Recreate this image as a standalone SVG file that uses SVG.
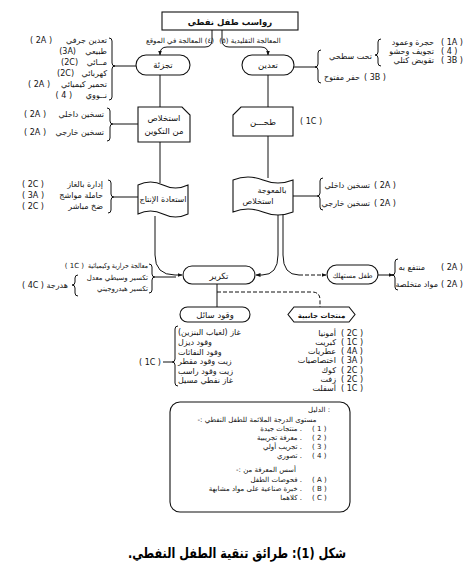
<svg xmlns="http://www.w3.org/2000/svg" width="470" height="580" viewBox="0 0 470 580">
<style>
.t{font-family:"DejaVu Sans","Noto Sans",sans-serif;font-size:8px;fill:#111}
.s{font-family:"DejaVu Sans","Noto Sans",sans-serif;font-size:7px;fill:#111}
.n{font-family:"DejaVu Sans","Noto Sans",sans-serif;font-size:8.5px;fill:#111}
.bx{fill:#fff;stroke:#111;stroke-width:1.1}
.ln{fill:none;stroke:#111;stroke-width:1}
.dl{fill:none;stroke:#111;stroke-width:1;stroke-dasharray:4 2}
.cap{font-family:"DejaVu Sans","Noto Sans",sans-serif;font-size:14px;font-weight:bold;fill:#000}
</style>
<defs>
<marker id="ah" viewBox="0 0 10 10" refX="9" refY="5" markerWidth="5" markerHeight="5" orient="auto"><path d="M0,1 L10,5 L0,9 Z" fill="#111"/></marker>
</defs>
<rect width="470" height="580" fill="#fff"/>

<g id="connectors">
<path class="ln" d="M212,30 V40 Q212,47 205,47 H167 Q160,47 160,54 V55" marker-end="url(#ah)"/>
<path class="ln" d="M222,30 V40 Q222,47 229,47 H261 Q268,47 268,54 V55" marker-end="url(#ah)"/>
<path class="ln" d="M160,75 V107"/>
<path class="ln" d="M160,142 V183"/>
<path class="ln" d="M155,216 V255 Q155,275 175,275 H182" marker-end="url(#ah)"/>
<path class="ln" d="M268,75 V107"/>
<path class="ln" d="M268,136 V178"/>
<path class="ln" d="M278,213 V255 Q278,275 262,275 H256" marker-end="url(#ah)"/>
<path class="ln" d="M283,213 V255 Q283,275 299,275"/>
<path class="dl" d="M299,275 H326" marker-end="url(#ah)"/>
<path class="ln" d="M217,284 V307"/>
<path class="dl" d="M217,292 H312 Q320,292 320,300 V307"/>
<path class="ln" d="M114,66 H136"/>
<path class="ln" d="M294,67 H316"/>
<path class="ln" d="M113,124 H138"/>
<path class="ln" d="M114,197 H138"/>
<path class="ln" d="M293,196 H317"/>
<path class="ln" d="M155,277 H176"/>
<path class="ln" d="M378,275 H393" marker-end="url(#ah)"/>
<path class="ln" d="M163,362 H172"/>
<path class="ln" d="M109,38 Q112,38 112,41 V63 Q112,66 115,66 Q112,66 112,69 V97 Q112,100 109,100"/>
<path class="ln" d="M321,50 Q318,50 318,53 V64 Q318,67 315,67 Q318,67 318,70 V80 Q318,83 321,83"/>
<path class="ln" d="M381,39 Q378,39 378,42 V52 Q378,55 375,55 Q378,55 378,58 V63 Q378,66 381,66"/>
<path class="ln" d="M107,108 Q110,108 110,111 V121 Q110,124 113,124 Q110,124 110,127 V138 Q110,141 107,141"/>
<path class="ln" d="M108,180 Q111,180 111,183 V194 Q111,197 114,197 Q111,197 111,200 V210 Q111,213 108,213"/>
<path class="ln" d="M323,178 Q320,178 320,181 V193 Q320,196 317,196 Q320,196 320,199 V207 Q320,210 323,210"/>
<path class="ln" d="M149,264 Q152,264 152,267 V274 Q152,277 155,277 Q152,277 152,280 V290 Q152,293 149,293"/>
<path class="ln" d="M78,275 Q75,275 75,278 V282 Q75,285 72,285 Q75,285 75,288 V293 Q75,296 78,296"/>
<path class="ln" d="M398,259 Q395,259 395,262 V272 Q395,275 392,275 Q395,275 395,278 V287 Q395,290 398,290"/>
<path class="ln" d="M178,326 Q175,326 175,329 V359 Q175,362 172,362 Q175,362 175,365 V383 Q175,386 178,386"/>
</g>

<g id="n-title">
<rect class="bx" x="162" y="12" width="136" height="18"/>
<text class="n" x="230" y="24.5" text-anchor="middle" font-weight="bold">رواسب طفل نفطي</text>
</g>
<g id="lbl-top">
<text class="s" x="180" y="43" text-anchor="middle" direction="rtl">(٤) المعالجة في الموقع</text>
<text class="s" x="250" y="43" text-anchor="middle" direction="rtl">المعالجة التقليدية (٥)</text>
</g>

<g id="n-tajzia">
<rect class="bx" x="136" y="55" width="54" height="20" rx="10"/>
<text class="n" x="163" y="68" text-anchor="middle">تجزئة</text>
</g>
<g id="list-tajzia">
<text class="t" x="107" y="43" text-anchor="end">تعدين جرفي</text><text class="t" x="52" y="43" text-anchor="end">( 2A )</text>
<text class="t" x="107" y="54" text-anchor="end">طبيعي</text><text class="t" x="76" y="54" text-anchor="end">(3A)</text>
<text class="t" x="107" y="65" text-anchor="end">مــائي</text><text class="t" x="78" y="65" text-anchor="end">(2C)</text>
<text class="t" x="107" y="76" text-anchor="end">كهربائي</text><text class="t" x="74" y="76" text-anchor="end">(2C)</text>
<text class="t" x="107" y="87" text-anchor="end">تحمير كيميائي</text><text class="t" x="50" y="87" text-anchor="end">( 2A )</text>
<text class="t" x="107" y="98" text-anchor="end">نــووي</text><text class="t" x="72" y="98" text-anchor="end">( 4 )</text>
</g>

<g id="n-taadin">
<rect class="bx" x="242" y="55" width="52" height="20" rx="10"/>
<text class="n" x="268" y="68" text-anchor="middle">تعدين</text>
</g>
<g id="list-taadin">
<text class="t" x="372" y="59" text-anchor="end">تحت سطحي</text>
<text class="t" x="360" y="80" text-anchor="end">حفر مفتوح</text><text class="t" x="364" y="80">( 3B )</text>
<text class="t" x="434" y="45" text-anchor="end">حجرة وعمود</text><text class="t" x="441" y="45">( 1A )</text>
<text class="t" x="434" y="54" text-anchor="end">تجويف وحشو</text><text class="t" x="441" y="54">( 4 )</text>
<text class="t" x="434" y="63" text-anchor="end">تقويض كتلي</text><text class="t" x="441" y="63">( 3B )</text>
</g>

<g id="n-istikhlas">
<path class="bx" d="M138,107 H182 L190,115 V142 H138 Z"/>
<text class="n" x="164" y="121" text-anchor="middle">استخلاص</text>
<text class="n" x="164" y="134" text-anchor="middle">من التكوين</text>
</g>
<g id="list-istikhlas">
<text class="t" x="104" y="117" text-anchor="end">تسخين داخلي</text><text class="t" x="46" y="117" text-anchor="end">( 2A )</text>
<text class="t" x="104" y="135" text-anchor="end">تسخين خارجي</text><text class="t" x="46" y="135" text-anchor="end">( 2A )</text>
</g>

<g id="n-tahn">
<path class="bx" d="M241,107 H293 V136 H233 V115 Z"/>
<text class="n" x="263" y="125" text-anchor="middle">طحـــن</text>
<text class="t" x="300" y="124">( 1C )</text>
</g>

<g id="n-istiada">
<path class="bx" d="M138,185 Q150.5,179 163,185 T188,185 V214 Q175.5,220 163,214 T138,214 Z"/>
<text class="t" x="163" y="202" text-anchor="middle">استعادة الإنتاج</text>
</g>
<g id="list-istiada">
<text class="t" x="103" y="187" text-anchor="end">إدارة بالغاز</text><text class="t" x="44" y="187" text-anchor="end">( 2C )</text>
<text class="t" x="103" y="198" text-anchor="end">حاملة مواشج</text><text class="t" x="44" y="198" text-anchor="end">( 3A )</text>
<text class="t" x="103" y="209" text-anchor="end">ضخ مباشر</text><text class="t" x="44" y="209" text-anchor="end">( 2C )</text>
</g>

<g id="n-retort">
<path class="bx" d="M233,180 Q248,174 263,180 T293,180 V212 Q278,218 263,212 T233,212 Z"/>
<text class="t" x="272" y="193" text-anchor="middle">بالمعوجة</text>
<text class="t" x="258" y="204" text-anchor="middle">استخلاص</text>
</g>
<g id="list-retort">
<text class="t" x="370" y="188" text-anchor="end">تسخين داخلي</text><text class="t" x="374" y="188">( 2A )</text>
<text class="t" x="370" y="206" text-anchor="end">تسخين خارجي</text><text class="t" x="374" y="206">( 2A )</text>
</g>

<g id="n-takrir">
<rect class="bx" x="183" y="266" width="72" height="18" rx="9"/>
<text class="n" x="219" y="278.5" text-anchor="middle">تكرير</text>
</g>
<g id="list-takrir">
<text class="s" x="148" y="268" text-anchor="end" textLength="60" lengthAdjust="spacingAndGlyphs">معالجة حرارية وكيميائية</text><text class="s" x="84" y="268" text-anchor="end">( 1C )</text>
<text class="s" x="148" y="280" text-anchor="end">تكسير وسيطي معدل</text>
<text class="s" x="148" y="291" text-anchor="end">تكسير هيدروجيني</text>
<text class="t" x="68" y="288" text-anchor="end">هدرجة</text><text class="t" x="44" y="288" text-anchor="end">( 4C )</text>
</g>

<g id="n-spent">
<rect class="bx" x="327" y="265" width="51" height="19" rx="9.5"/>
<text class="s" x="352.5" y="277.5" text-anchor="middle">طفل مستهلك</text>
</g>
<g id="list-spent">
<text class="t" x="425" y="270" text-anchor="end">منتفع به</text><text class="t" x="441" y="270">( 2A )</text>
<text class="t" x="438" y="287" text-anchor="end">مواد متخلصة</text><text class="t" x="441" y="287">( 2A )</text>
</g>

<g id="n-fuel">
<rect class="bx" x="180" y="307" width="70" height="15" rx="7.5"/>
<text class="n" x="215" y="318" text-anchor="middle">وقود سائل</text>
</g>
<g id="list-fuel">
<text class="t" x="161" y="365" text-anchor="end">( 1C )</text>
<text class="t" x="178" y="335">غاز (لغياب البنزين)</text>
<text class="t" x="178" y="345">وقود ديزل</text>
<text class="t" x="178" y="355">وقود النفاثات</text>
<text class="t" x="178" y="364">زيت وقود مقطر</text>
<text class="t" x="178" y="374">زيت وقود راسب</text>
<text class="t" x="178" y="383">غاز نفطي مسيل</text>
</g>

<g id="n-byprod">
<path class="bx" d="M294,307 H349 L355,314.5 L349,322 H294 L288,314.5 Z"/>
<text class="s" x="321.5" y="317.5" text-anchor="middle" font-weight="bold">منتجات جانبية</text>
</g>
<g id="list-byprod">
<text class="t" x="336" y="336" text-anchor="end">أمونيا</text><text class="t" x="341" y="336">( 2C )</text>
<text class="t" x="336" y="345" text-anchor="end">كبريت</text><text class="t" x="341" y="345">( 1C )</text>
<text class="t" x="336" y="354" text-anchor="end">عطريات</text><text class="t" x="341" y="354">( 4A )</text>
<text class="t" x="336" y="363" text-anchor="end">اختصاصيات</text><text class="t" x="341" y="363">( 3A )</text>
<text class="t" x="336" y="373" text-anchor="end">كوك</text><text class="t" x="341" y="373">( 2C )</text>
<text class="t" x="336" y="382" text-anchor="end">زفت</text><text class="t" x="341" y="382">( 2C )</text>
<text class="t" x="336" y="391" text-anchor="end">أسفلت</text><text class="t" x="341" y="391">( 1C )</text>
</g>

<g id="legend">
<rect class="bx" x="170" y="402" width="180" height="110" rx="10"/>
<text class="s" x="330" y="412" text-anchor="end">الدليل :</text>
<text class="s" x="257" y="422" text-anchor="middle" direction="rtl">مستوى الدرجة الملائمة للطفل النفطي :-</text>
<text class="s" x="302" y="431" text-anchor="end">منتجات جيدة .</text><text class="s" x="312" y="431">( 1 )</text>
<text class="s" x="302" y="440" text-anchor="end">معرفة تجريبية .</text><text class="s" x="312" y="440">( 2 )</text>
<text class="s" x="302" y="449" text-anchor="end">تجريب أولي .</text><text class="s" x="312" y="449">( 3 )</text>
<text class="s" x="302" y="458" text-anchor="end">تصوري .</text><text class="s" x="312" y="458">( 4 )</text>
<text class="s" x="266" y="472" text-anchor="middle" direction="rtl">أسس المعرفة من :-</text>
<text class="s" x="302" y="482" text-anchor="end">فحوصات الطفل .</text><text class="s" x="312" y="482">( A )</text>
<text class="s" x="302" y="491" text-anchor="end">خبرة صناعية على مواد مشابهة .</text><text class="s" x="312" y="491">( B )</text>
<text class="s" x="302" y="500" text-anchor="end">كلاهما .</text><text class="s" x="312" y="500">( C )</text>
</g>

<text class="cap" x="237" y="558" text-anchor="middle" direction="rtl" textLength="218" lengthAdjust="spacingAndGlyphs">شكل (1): طرائق تنقية الطفل النفطي.</text>
</svg>
